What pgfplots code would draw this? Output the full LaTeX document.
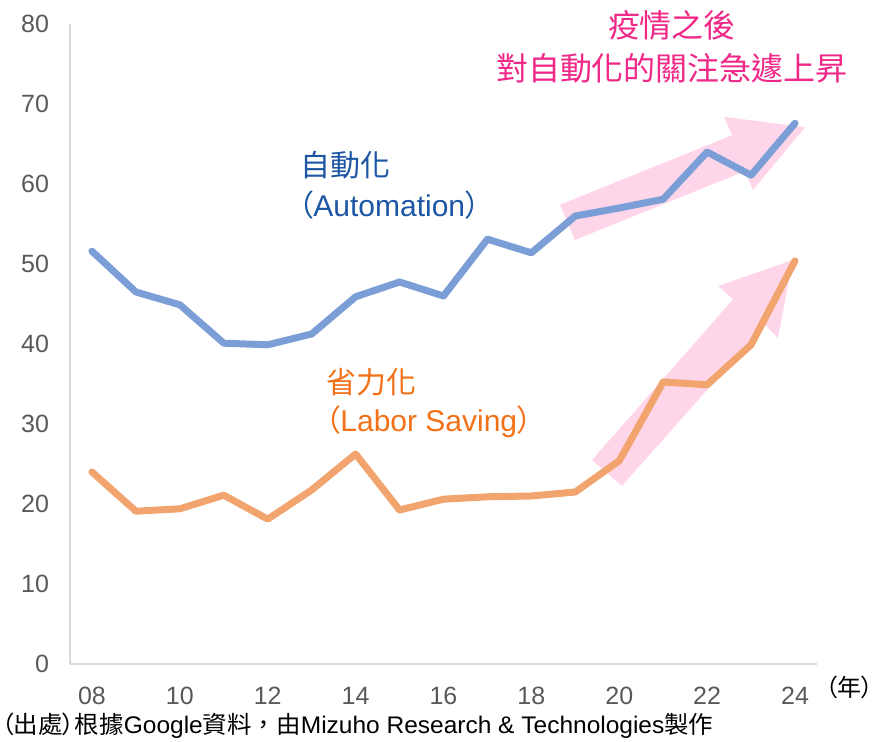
\documentclass[border=0pt]{standalone}
\usepackage{fontspec}
\setmainfont{Liberation Sans}
\newfontfamily\cjk{Noto Sans CJK TC}
\newfontfamily\cjkp[RawFeature=+palt]{Noto Sans CJK TC}
\usepackage{graphicx}
\usepackage{pgfplots}
\pgfplotsset{compat=1.18}
\definecolor{autoline}{RGB}{124,158,214}
\definecolor{laborline}{RGB}{242,164,110}
\definecolor{autotext}{RGB}{28,86,164}
\definecolor{labortext}{RGB}{242,112,22}
\definecolor{titlepink}{RGB}{240,40,135}
\definecolor{arrowpink}{RGB}{255,214,233}
\definecolor{axisgrey}{RGB}{217,217,217}
\definecolor{tickgrey}{RGB}{89,89,89}
\begin{document}
\begin{tikzpicture}
\path[use as bounding box] (-35pt,-39pt) rectangle (405pt,332pt);
\begin{axis}[
  at={(0,0)}, anchor=south west,
  scale only axis, width=373.5pt, height=320pt,
  xmin=2007.5, xmax=2024.5, ymin=0, ymax=80,
  axis x line=bottom, axis y line=left,
  axis line style={draw=axisgrey, line width=1.2pt, -},
  xtick={2008,2010,...,2024},
  xticklabels={08,10,12,14,16,18,20,22,24},
  ytick={0,10,...,80},
  major tick length=0pt,
  tick style={draw=none},
  /pgf/number format/assume math mode=true,
  ticklabel style={font=\fontsize{12.5}{15}\selectfont, text=tickgrey},
  yticklabel style={xshift=-7pt},
  xticklabel style={yshift=-8pt},
  clip=false,
]
\fill[arrowpink] (axis cs:2018.65,57.4) -- (axis cs:2022.57,66.1) -- (axis cs:2022.38,68.4) -- (axis cs:2024.23,67.1) -- (axis cs:2023.04,59.25) -- (axis cs:2022.86,61.6) -- (axis cs:2018.99,53.0) -- cycle;
\fill[arrowpink] (axis cs:2019.38,25.5) -- (axis cs:2022.59,45.6) -- (axis cs:2022.25,47.25) -- (axis cs:2023.95,50.5) -- (axis cs:2023.61,40.75) -- (axis cs:2023.32,42.4) -- (axis cs:2020.06,22.25) -- cycle;
\addplot[autoline, line width=3.5pt, line join=round, line cap=round] coordinates {
(2008,51.6) (2009,46.5) (2010,44.9) (2011,40.1) (2012,39.9) (2013,41.25) (2014,45.9) (2015,47.75) (2016,46.0) (2017,53.1) (2018,51.4) (2019,56.0) (2020,57.0) (2021,58.1) (2022,64.0) (2023,61.1) (2024,67.6)};
\addplot[laborline, line width=3.5pt, line join=round, line cap=round] coordinates {
(2008,24.0) (2009,19.1) (2010,19.4) (2011,21.1) (2012,18.1) (2013,21.75) (2014,26.25) (2015,19.25) (2016,20.6) (2017,20.9) (2018,21.0) (2019,21.5) (2020,25.4) (2021,35.25) (2022,34.9) (2023,39.9) (2024,50.4)};
\end{axis}
\node[text=titlepink, font=\cjk\fontsize{16}{19}\selectfont, inner sep=0pt] at (301pt,319.5pt) {疫情之後};
\node[text=titlepink, font=\cjk\fontsize{16}{19}\selectfont, inner sep=0pt] at (301pt,298pt) {對自動化的關注急遽上昇};
\node[text=autotext, font=\fontsize{15}{18}\selectfont, inner sep=0pt, anchor=west] at (115pt,249.5pt) {{\cjk 自動化}};
\node[text=autotext, font=\fontsize{15}{18}\selectfont, inner sep=0pt, anchor=west] at (114pt,229.5pt) {{\cjkp （}Automation{\cjkp ）}};
\node[text=labortext, font=\fontsize{15}{18}\selectfont, inner sep=0pt, anchor=west] at (128pt,141pt) {{\cjk 省力化}};
\node[text=labortext, font=\fontsize{15}{18}\selectfont, inner sep=0pt, anchor=west] at (127.5pt,121pt) {{\cjkp （}Labor Saving{\cjkp ）}};
\node[text=black, font=\fontsize{12}{14}\selectfont, inner sep=0pt, anchor=east] at (402pt,-11.5pt) {{\cjkp （年）}};
\node[text=black, font=\fontsize{12}{14}\selectfont, inner sep=0pt, anchor=west] at (-34.5pt,-31pt) {\resizebox{356pt}{\height}{{\cjkp （出處）根據}Google{\cjk 資料，}{\cjkp 由}Mizuho Research \& Technologies{\cjk 製作}}};
\end{tikzpicture}
\end{document}
